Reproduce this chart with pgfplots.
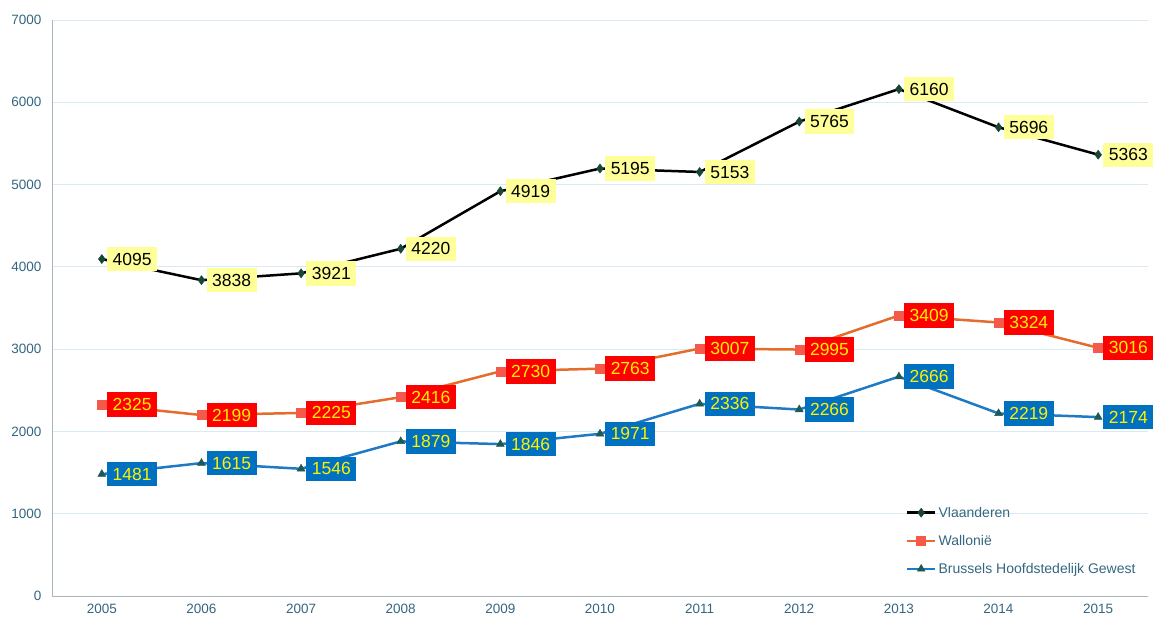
\documentclass[border=0pt]{standalone}
\usepackage{pgfplots}
\pgfplotsset{compat=1.18}
\usepackage{fontspec}
\setmainfont{Liberation Sans}
\definecolor{tickc}{RGB}{52,102,128}
\definecolor{gridc}{RGB}{217,234,245}
\definecolor{axisc}{RGB}{170,182,190}
\definecolor{wline}{RGB}{228,108,44}
\definecolor{wmark}{RGB}{244,89,74}
\definecolor{bline}{RGB}{30,122,196}
\definecolor{bmark}{RGB}{30,90,85}
\definecolor{vmark}{RGB}{25,70,50}
\definecolor{lyellow}{RGB}{255,255,153}
\definecolor{bblue}{RGB}{0,112,192}
\begin{document}
\begin{tikzpicture}
\begin{axis}[
  scale only axis,
  width=1096pt, height=576pt,
  xmin=2004.5, xmax=2015.5,
  ymin=0, ymax=7000,
  xtick={2005,...,2015},
  ytick={0,1000,...,7000},
  /pgf/number format/1000 sep={},
  /pgf/number format/assume math mode=true,
  axis lines=left,
  axis line style={draw=axisc, line width=0.8pt, -},
  major tick length=0pt,
  ymajorgrids,
  grid style={draw=gridc, line width=0.8pt},
  tick label style={font=\fontsize{13.5}{15}\selectfont, text=tickc},
  yticklabel style={xshift=-7pt},
  xticklabel style={yshift=-5pt},
  clip=false,
  legend style={draw=none, fill=none, at={(0.776,0.162)}, anchor=north west,
    font=\fontsize{14}{16}\selectfont, text=tickc, row sep=12.5pt,
    /tikz/every odd column/.append style={column sep=0pt}},
  legend cell align=left,
  legend image code/.code={\draw[mark repeat=2,mark phase=2] plot coordinates {(0cm,0cm) (0.5cm,0cm) (1cm,0cm)};},
  nodes near coords,
  every node near coord/.append style={anchor=west, xshift=5pt,
    font=\fontsize{17.5}{19}\selectfont, inner xsep=5.5pt, inner ysep=6pt},
]
\addplot[black, line width=2.5pt, mark=diamond*, mark size=4.5pt,
  mark options={fill=vmark, draw=vmark, line width=0.5pt},
  every node near coord/.append style={fill=lyellow, text=black}]
  coordinates {(2005,4095) (2006,3838) (2007,3921) (2008,4220) (2009,4919) (2010,5195) (2011,5153) (2012,5765) (2013,6160) (2014,5696) (2015,5363)};
\addlegendentry{Vlaanderen}
\addplot[wline, line width=2.5pt, mark=square*, mark size=4.5pt,
  mark options={fill=wmark, draw=wmark, line width=0.5pt},
  every node near coord/.append style={fill=red, text=yellow}]
  coordinates {(2005,2325) (2006,2199) (2007,2225) (2008,2416) (2009,2730) (2010,2763) (2011,3007) (2012,2995) (2013,3409) (2014,3324) (2015,3016)};
\addlegendentry{Wallonië}
\addplot[bline, line width=2.5pt, mark=triangle*, mark size=4.5pt,
  mark options={fill=bmark, draw=bmark, line width=0.5pt},
  every node near coord/.append style={fill=bblue, text=yellow}]
  coordinates {(2005,1481) (2006,1615) (2007,1546) (2008,1879) (2009,1846) (2010,1971) (2011,2336) (2012,2266) (2013,2666) (2014,2219) (2015,2174)};
\addlegendentry{Brussels Hoofdstedelijk Gewest}
\end{axis}
\pgfresetboundingbox
\path[use as bounding box] ([shift={(-52pt,-21pt)}]current axis.south west) rectangle ([shift={(5pt,20pt)}]current axis.north east);
\end{tikzpicture}
\end{document}
